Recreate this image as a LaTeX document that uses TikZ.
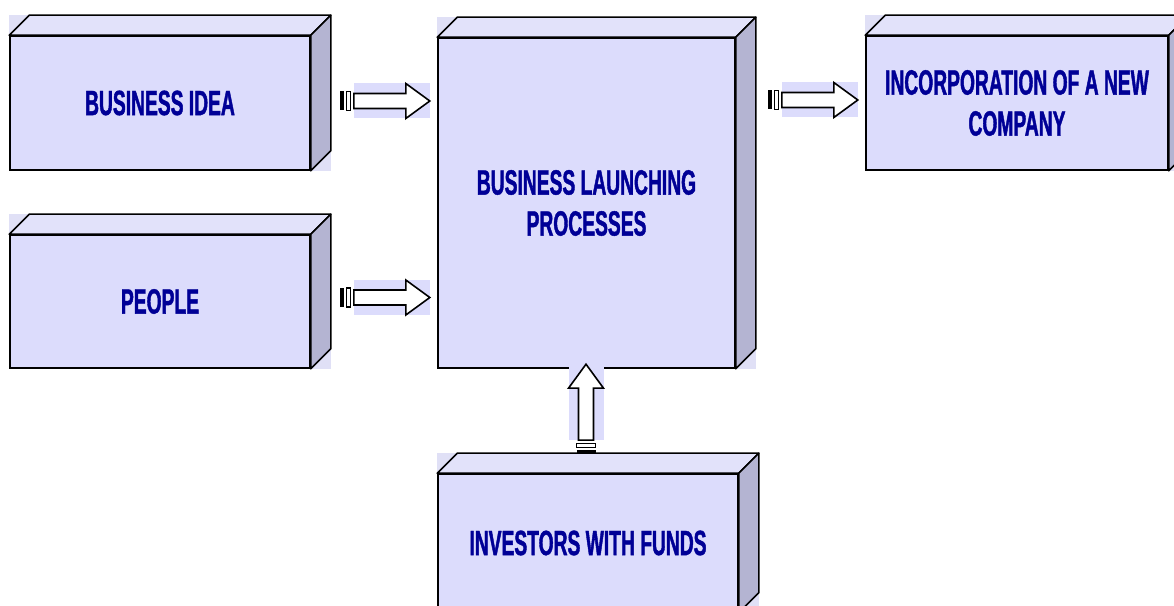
\documentclass[tikz,border=0pt]{standalone}
\usepackage{fontspec}
\newfontfamily\boxfont[FakeStretch=0.55,BoldFeatures={FakeBold=1.2}]{Liberation Sans}
\usetikzlibrary{calc}
\definecolor{frontcol}{RGB}{220,220,252}
\definecolor{topcol}{RGB}{226,226,250}
\definecolor{sidecol}{RGB}{180,180,210}
\definecolor{shadecol}{RGB}{224,224,246}
\definecolor{textcol}{RGB}{0,0,150}
\tikzset{
  cube/.style={draw,line width=1.6pt,fill=frontcol,inner sep=0pt,
    minimum width=300pt,minimum height=134pt,text=textcol,align=center,
    font=\boxfont\bfseries\fontsize{35}{41}\selectfont},
  face/.style={draw,line width=1.6pt,line join=round},
  fatarrow/.pic={
    \fill (0,-9.5) rectangle (4,9.5);
    \draw[line width=1.2pt] (7,-9.5) rectangle (11,9.5);
    \fill[frontcol] (14,-17.5) rectangle (90,17.5);
    \draw[line width=1.6pt,fill=white,line join=miter]
      (14,-7.5) -- (66,-7.5) -- (66,-17.5) -- (90,0)
      -- (66,17.5) -- (66,7.5) -- (14,7.5) -- cycle;
  }
}
% top and side faces of a box, 20pt deep
\newcommand\boxfaces[1]{%
  \fill[shadecol] (#1.north west) -- ++(0,20) -- ++(20,0) -- cycle;
  \fill[shadecol] (#1.south east) -- ++(20,0) -- ++(0,20) -- cycle;
  \draw[face,fill=topcol] (#1.north west) -- ++(20,20)
    -- ($(#1.north east)+(20,20)$) -- (#1.north east) -- cycle;
  \draw[face,fill=sidecol] (#1.north east) -- ++(20,20)
    -- ($(#1.south east)+(20,20)$) -- (#1.south east) -- cycle;
}

\begin{document}
\begin{tikzpicture}[x=1pt,y=1pt]
  \useasboundingbox (0,0) rectangle (1174,605);
  \clip (0,0) rectangle (1174,605);
  % left column feeds the launching box, funds come from below
  \node[cube] (idea) at (160,502) {BUSINESS IDEA};
  \node[cube,minimum height=133pt] (people) at (160,303.5) {PEOPLE};
  \node[cube,minimum width=297pt,minimum height=330pt] (launch) at (586.5,402)
    {BUSINESS LAUNCHING\\PROCESSES};
  \node[cube,minimum width=302pt] (incorp) at (1017,502)
    {INCORPORATION OF A NEW\\COMPANY};
  \node[cube,minimum height=138pt] (investors) at (588,62)
    {INVESTORS WITH FUNDS};
  \boxfaces{idea}
  \boxfaces{people}
  \boxfaces{launch}
  \boxfaces{incorp}
  \boxfaces{investors}

  \pic at ($(idea.east)+(29,2)$) {fatarrow};
  \pic at ($(people.east)+(29,4)$) {fatarrow};
  \pic at ($(launch.east |- incorp.east)+(32,3)$) {fatarrow};
  \pic[rotate=90] at ($(investors.north)+(-2,19)$) {fatarrow};
\end{tikzpicture}
\end{document}
